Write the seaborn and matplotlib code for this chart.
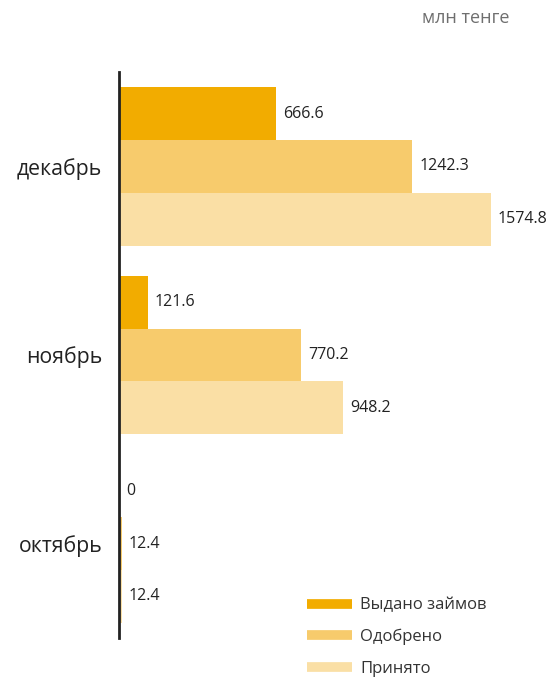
import matplotlib
matplotlib.use("Agg")
import matplotlib.pyplot as plt
from matplotlib.lines import Line2D
import pandas as pd
import seaborn as sns

months = ["декабрь", "ноябрь", "октябрь"]
series = ["Выдано займов", "Одобрено", "Принято"]
issued = [666.6, 121.6, 0]
approved = [1242.3, 770.2, 12.4]
received = [1574.8, 948.2, 12.4]
colors = ["#F2AC00", "#F7CB6C", "#FADFA5"]
unit_label = "млн тенге"

rows = []
for name, vals in zip(series, [issued, approved, received]):
    for m, v in zip(months, vals):
        rows.append({"month": m, "series": name, "value": v})
df = pd.DataFrame(rows)

sns.set_theme(style="white")
plt.rcParams["font.family"] = ["Open Sans", "DejaVu Sans"]

fig = plt.figure(figsize=(5.5, 6.77), dpi=100)
ax = fig.add_axes([118 / 550, 39 / 677, 401.5 / 550, 566 / 677])

sns.barplot(data=df, y="month", x="value", hue="series", order=months,
            hue_order=series, palette=colors, orient="h", width=0.84,
            saturation=1, linewidth=0, legend=False, ax=ax)

ax.set_xlim(-4, 1696)
ax.set_ylim(2.5, -0.5)
ax.set_xlabel("")
ax.set_ylabel("")
ax.set_xticks([])
ax.tick_params(axis="y", length=0, pad=12, labelsize=15.3, labelcolor="#222222")
for s in ["top", "right", "bottom"]:
    ax.spines[s].set_visible(False)
ax.spines["left"].set_color("#222222")
ax.spines["left"].set_linewidth(2)
ax.spines["left"].set_position(("data", 0))

for cont, vals in zip(ax.containers, [issued, approved, received]):
    ax.bar_label(cont, labels=[f"{v:g}" for v in vals], padding=5,
                 fontsize=11.5, color="#222222")

fig.text(510 / 550, 1 - 18 / 677, unit_label, ha="right", va="center",
         fontsize=13, color="#6f6f6f")

handles = [Line2D([0], [0], color=c, lw=7, solid_capstyle="butt") for c in colors]
leg = fig.legend(handles, series, loc="center left", frameon=False,
                 fontsize=12, handlelength=2.7, labelspacing=0.92,
                 handletextpad=0.5, borderpad=0, borderaxespad=0,
                 bbox_to_anchor=(307 / 550, 1 - 637 / 677))
for t in leg.get_texts():
    t.set_color("#333333")

fig.savefig("out.png", dpi=100)
